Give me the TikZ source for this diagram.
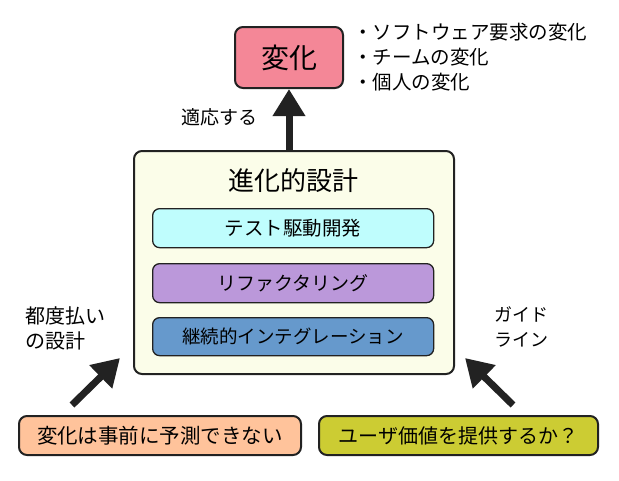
\documentclass[tikz,border=0pt]{standalone}
\usepackage{fontspec}
\setmainfont{Noto Sans CJK JP}
\usetikzlibrary{arrows.meta}
\definecolor{cpink}{HTML}{F48797}
\definecolor{ccream}{HTML}{FBFDE9}
\definecolor{ccyan}{HTML}{BFFDFD}
\definecolor{cpurple}{HTML}{BB98DA}
\definecolor{cblue}{HTML}{6699CC}
\definecolor{cpeach}{HTML}{FFC39B}
\definecolor{colive}{HTML}{CCCC33}
\definecolor{cline}{HTML}{222222}
\tikzset{
  box/.style={draw=cline, line width=2pt, rounded corners=8pt, inner sep=0pt, anchor=north west},
  inbox/.style={draw=cline, line width=1.3pt, rounded corners=7pt, inner sep=0pt, anchor=north west},
  lbl/.style={inner sep=0pt, align=left, font=\fontsize{19}{25}\selectfont},
  bigarrow/.style={line width=7pt, draw=cline, -{Triangle[length=27pt,width=31pt]}},
}
\begin{document}
\begin{tikzpicture}[x=1pt,y=-1pt]
\useasboundingbox (0,0) rectangle (619,480);
% change box
\node[box, fill=cpink, minimum width=108pt, minimum height=61pt, font=\fontsize{28}{30}\selectfont] (chg) at (234,26) {変化};
\node[lbl, anchor=west, font=\fontsize{19.5}{25}\selectfont] (b1) at (353,32) {・ソフトウェア要求の変化};
\node[lbl, anchor=west, font=\fontsize{19.5}{25}\selectfont] (b2) at (353,57) {・チームの変化};
\node[lbl, anchor=west, font=\fontsize{19.5}{25}\selectfont] (b3) at (353,82) {・個人の変化};
% evolutionary design
\node[box, fill=ccream, minimum width=320pt, minimum height=223pt] (evo) at (133,150) {};
\node[inner sep=0pt, font=\fontsize{26}{28}\selectfont] (evt) at (293,181) {進化的設計};
\node[inbox, fill=ccyan, minimum width=281pt, minimum height=39pt, font=\fontsize{19.5}{22}\selectfont] (tdd) at (152,208) {テスト駆動開発};
\node[inbox, fill=cpurple, minimum width=281pt, minimum height=39pt, font=\fontsize{19}{22}\selectfont] (ref) at (152,263) {リファクタリング};
\node[inbox, fill=cblue, minimum width=281pt, minimum height=38pt, font=\fontsize{18.5}{22}\selectfont] (ci) at (152,317) {継続的インテグレーション};
% up arrow
\node[lbl, anchor=west] (adapt) at (181,117) {適応する};
\draw[bigarrow] (chg.south |- evo.north) -- (chg.south);
% bottom boxes
\node[box, fill=cpeach, minimum width=282pt, minimum height=39pt, font=\fontsize{20.5}{22}\selectfont] (unp) at (18,415) {変化は事前に予測できない};
\node[box, fill=colive, minimum width=279pt, minimum height=39pt, font=\fontsize{20}{22}\selectfont] (val) at (318,415) {ユーザ価値を提供するか？};
\node[lbl, anchor=north west, font=\fontsize{20}{25}\selectfont] (pay) at (25,306) {都度払い\\の設計};
\node[lbl, anchor=north west, font=\fontsize{18}{25}\selectfont] (guide) at (494,306) {ガイド\\ライン};
\coordinate (lt) at (72,405);
\coordinate (lh) at (120,358);
\coordinate (rt) at (513,405);
\coordinate (rh) at (465,358);
\draw[bigarrow] (lt) -- (lh);
\draw[bigarrow] (rt) -- (rh);
\end{tikzpicture}
\end{document}
